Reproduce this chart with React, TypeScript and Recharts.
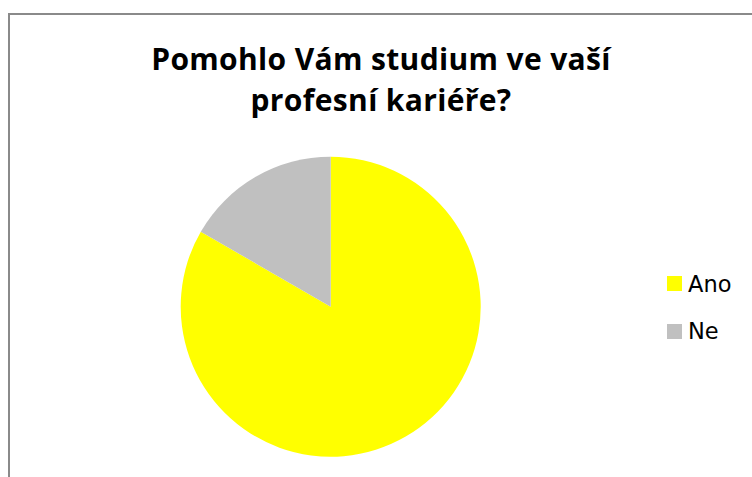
import { Cell, Legend, Pie, PieChart } from 'recharts';

// Survey answers and their share of responses
const answers = ['Ano', 'Ne'];
const counts = [5, 1];
const colors = ['#FFFF00', '#C0C0C0'];

const title = ['Pomohlo Vám studium ve vaší', 'profesní kariéře?'];

const data = answers.map((name, i) => ({ name, value: counts[i] }));

function LegendList(): JSX.Element {
  return (
    <div>
      {answers.map((name, i) => (
        <div
          key={name}
          style={{ display: 'flex', alignItems: 'center', height: 47.5 }}
        >
          <span
            style={{
              display: 'inline-block',
              width: 15,
              height: 15,
              background: colors[i],
              marginRight: 6,
            }}
          />
          <span
            style={{
              fontFamily: '"DejaVu Sans", sans-serif',
              fontSize: 22.5,
              color: '#000',
              lineHeight: '26px',
            }}
          >
            {name}
          </span>
        </div>
      ))}
    </div>
  );
}

export default function App(): JSX.Element {
  return (
    <div
      style={{
        position: 'fixed',
        left: 0,
        top: 0,
        width: 752,
        height: 477,
        overflow: 'hidden',
        background: '#fff',
      }}
    >
      <div
        style={{
          position: 'absolute',
          left: 8,
          top: 12.5,
          width: 800,
          height: 520,
          borderTop: '2px solid #8a8a8a',
          borderLeft: '2px solid #8a8a8a',
        }}
      />
      <div
        style={{
          position: 'absolute',
          left: 0,
          top: 38,
          width: 762,
          textAlign: 'center',
          fontFamily: '"Open Sans", sans-serif',
          fontWeight: 700,
          fontSize: 30,
          letterSpacing: 0.35,
          lineHeight: '41px',
          color: '#000',
        }}
      >
        {title.map((line) => (
          <div key={line}>{line}</div>
        ))}
      </div>
      <div style={{ position: 'absolute', left: 0, top: 0 }}>
        <PieChart
          width={752}
          height={477}
          margin={{ top: 0, right: 0, bottom: 0, left: 0 }}
        >
          <Pie
            data={data}
            dataKey="value"
            nameKey="name"
            cx={330.7}
            cy={306.7}
            outerRadius={150}
            startAngle={90}
            endAngle={-270}
            stroke="none"
            isAnimationActive={false}
          >
            {data.map((d, i) => (
              <Cell key={d.name} fill={colors[i]} />
            ))}
          </Pie>
          <Legend
            content={() => <LegendList />}
            wrapperStyle={{ position: 'absolute', left: 667, top: 260, width: 80 }}
          />
        </PieChart>
      </div>
    </div>
  );
}
